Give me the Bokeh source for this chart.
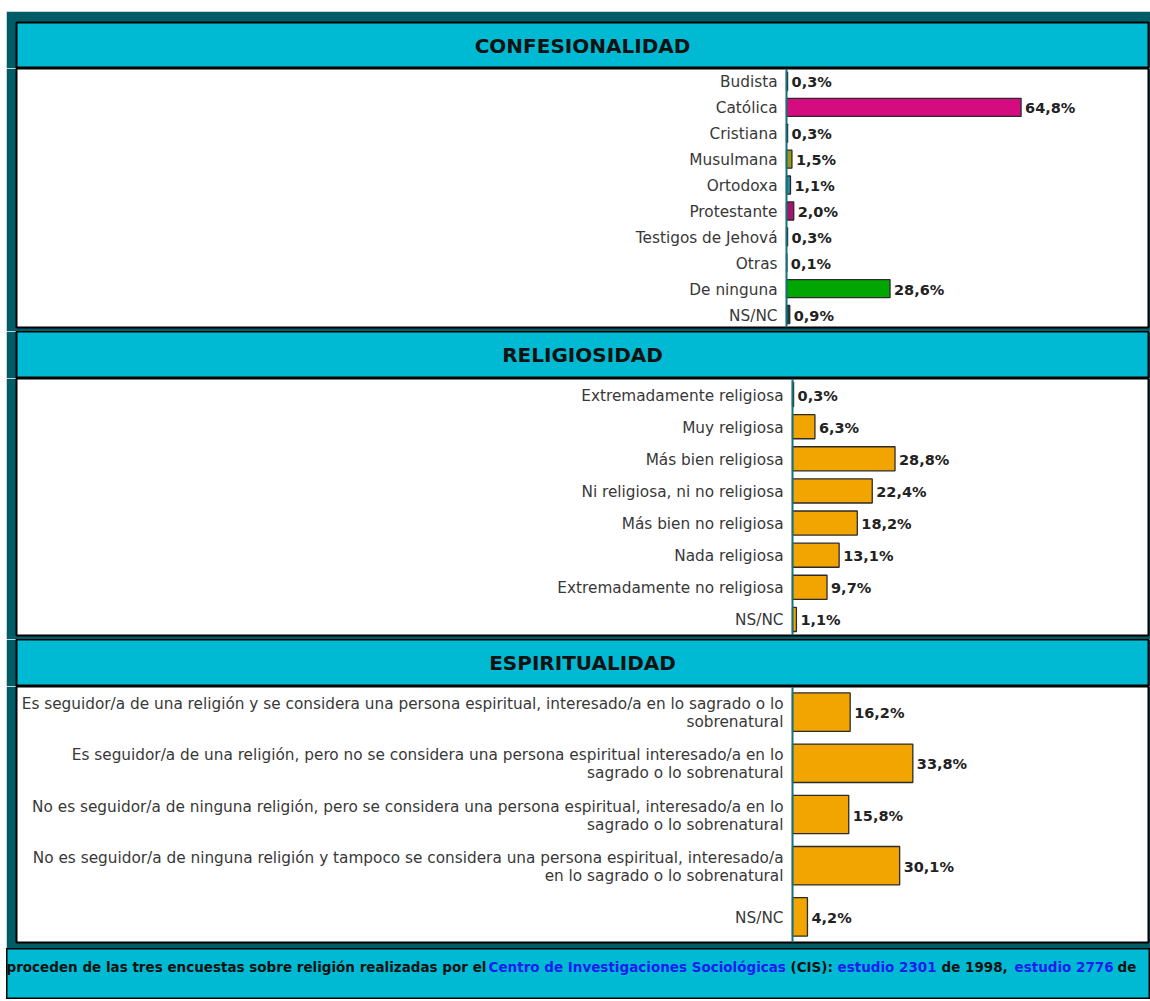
from bokeh.plotting import figure
from bokeh.layouts import column, row
from bokeh.models import ColumnDataSource, Range1d, FactorRange, Span, Spacer
from bokeh.core.properties import value
from bokeh.embed import file_html
from bokeh.resources import INLINE

# ---------------- data ----------------
conf_title = "CONFESIONALIDAD"
conf_cats = ["Budista", "Católica", "Cristiana", "Musulmana", "Ortodoxa",
             "Protestante", "Testigos de Jehová", "Otras", "De ninguna", "NS/NC"]
conf_vals = [0.3, 64.8, 0.3, 1.5, 1.1, 2.0, 0.3, 0.1, 28.6, 0.9]
conf_colors = ["#e8a33a", "#d40c80", "#7b3f9e", "#9c9a12", "#2d8c9c",
               "#a8136b", "#4a6fb5", "#888888", "#02a602", "#1e3f47"]

rel_title = "RELIGIOSIDAD"
rel_cats = ["Extremadamente religiosa", "Muy religiosa", "Más bien religiosa",
            "Ni religiosa, ni no religiosa", "Más bien no religiosa",
            "Nada religiosa", "Extremadamente no religiosa", "NS/NC"]
rel_vals = [0.3, 6.3, 28.8, 22.4, 18.2, 13.1, 9.7, 1.1]

esp_title = "ESPIRITUALIDAD"
esp_cats = [
    "Es seguidor/a de una religión y se considera una persona espiritual, interesado/a en lo sagrado o lo\nsobrenatural",
    "Es seguidor/a de una religión, pero no se considera una persona espiritual interesado/a en lo\nsagrado o lo sobrenatural",
    "No es seguidor/a de ninguna religión, pero se considera una persona espiritual, interesado/a en lo\nsagrado o lo sobrenatural",
    "No es seguidor/a de ninguna religión y tampoco se considera una persona espiritual, interesado/a\nen lo sagrado o lo sobrenatural",
    "NS/NC",
]
esp_vals = [16.2, 33.8, 15.8, 30.1, 4.2]

footer_parts = [
    "proceden de las tres encuestas sobre religión realizadas por el",
    "Centro de Investigaciones Sociológicas",
    "(CIS):",
    "estudio 2301",
    "de 1998,",
    "estudio 2776",
    "de",
]
footer_is_link = [False, True, False, True, False, True, False]

# ---------------- style ----------------
TEAL = "#005c67"
CYAN = "#00bad4"
AXIS = "#17707d"
ORANGE = "#f2a500"
FONT = value("DejaVu Sans")
W = 1144          # figure width (x 6 -> 1150)
PAD_L = 10        # teal band left of panels
PAD_R = 2
FRAME_W = W - PAD_L - PAD_R


def header(title, top, frame_h):
    p = figure(width=W, height=frame_h + top, min_border_left=PAD_L, min_border_right=PAD_R,
               min_border_top=top, min_border_bottom=0,
               x_axis_location=None, y_axis_location=None,
               x_range=Range1d(0, 1), y_range=Range1d(0, 1),
               toolbar_location=None, output_backend="svg",
               background_fill_color=CYAN, border_fill_color=TEAL,
               outline_line_color="black", outline_line_width=2)
    p.grid.visible = False
    src = ColumnDataSource(dict(t=[title]))
    p.text(x=0.5, y=0.5, text="t", source=src, text_align="center",
           text_baseline="middle", text_font=FONT, text_font_style="bold",
           text_font_size="20px", text_color="#111111")
    return p


def body(cats, vals, colors, frame_h, axis_px, bottom, bar_h):
    left = 100.0 * axis_px / (FRAME_W - axis_px)
    p = figure(width=W, height=frame_h + bottom, min_border_left=PAD_L,
               min_border_right=PAD_R, min_border_top=0, min_border_bottom=bottom,
               x_axis_location=None, y_axis_location=None,
               x_range=Range1d(-left, 100), y_range=FactorRange(*reversed(cats)),
               toolbar_location=None, output_backend="svg",
               background_fill_color="white", border_fill_color=TEAL,
               outline_line_color="black", outline_line_width=2)
    p.grid.visible = False
    labs = [f"{v:.1f}".replace(".", ",") + "%" for v in vals]
    src = ColumnDataSource(dict(cat=cats, val=vals, color=colors, lab=labs))
    p.hbar(y="cat", left=0, right="val", height=bar_h, fill_color="color",
           line_color="#2b2b2b", line_width=1.3, source=src)
    p.add_layout(Span(location=0, dimension="height", line_color=AXIS, line_width=2))
    p.text(x=0, y="cat", text="cat", source=src, x_offset=-9, y_offset=1,
           text_align="right", text_baseline="middle", text_font=FONT,
           text_font_size="15.3px", text_color="#383838", text_line_height=1.0)
    p.text(x="val", y="cat", text="lab", source=src, x_offset=4, y_offset=1,
           text_align="left", text_baseline="middle", text_font=FONT,
           text_font_style="bold", text_font_size="14.5px", text_color="#222222")
    return p


def footer(frame_h):
    p = figure(width=W, height=frame_h, min_border=0, min_border_left=0,
               min_border_right=0, min_border_top=0, min_border_bottom=0,
               x_axis_location=None, y_axis_location=None,
               x_range=Range1d(0, W), y_range=Range1d(0, frame_h),
               toolbar_location=None, output_backend="svg",
               background_fill_color=CYAN, border_fill_color=TEAL,
               outline_line_color="black", outline_line_width=2)
    p.grid.visible = False
    xs = [0, 482, 784, 831, 935, 1008, 1111]
    cols = ["#1d1dee" if l else "#111111" for l in footer_is_link]
    src = ColumnDataSource(dict(x=xs, y=[frame_h - 18] * len(xs), t=footer_parts, c=cols))
    p.text(x="x", y="y", text="t", text_color="c", source=src, text_align="left",
           text_baseline="middle", text_font=FONT, text_font_style="bold",
           text_font_size="13.5px")
    return p


h1 = header(conf_title, 11, 46)
b1 = body(conf_cats, conf_vals, conf_colors, 259, 770, 4, 0.7)
h2 = header(rel_title, 0, 47)
b2 = body(rel_cats, rel_vals, [ORANGE] * len(rel_vals), 257, 776, 4, 0.75)
h3 = header(esp_title, 0, 47)
b3 = body(esp_cats, esp_vals, [ORANGE] * len(esp_vals), 256, 776, 6, 0.75)
f = footer(51)

panels = column(Spacer(width=W, height=11), h1, b1, h2, b2, h3, b3, spacing=0)
top = row(Spacer(width=6, height=10), panels, spacing=0)
bottom = row(Spacer(width=6, height=10), f, spacing=0)
layout = column(top, bottom, spacing=0)

open("out.html", "w").write(file_html(layout, INLINE))
